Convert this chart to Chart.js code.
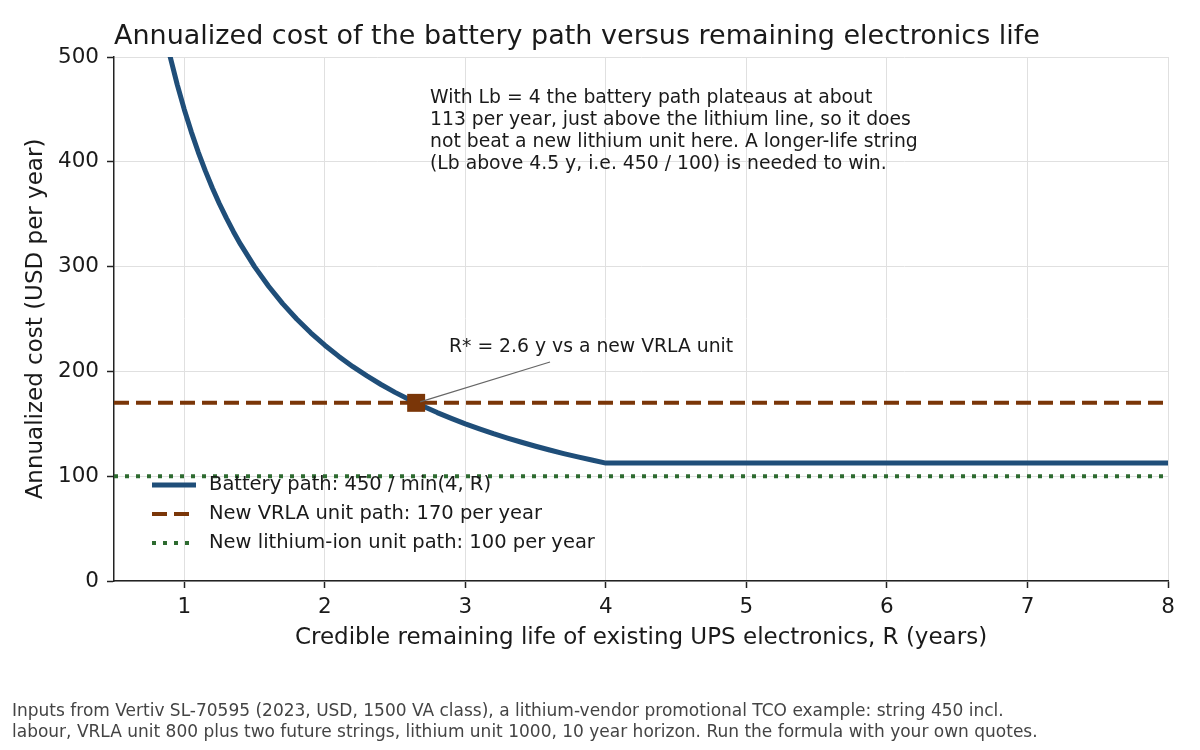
<!DOCTYPE html>
<html>
<head>
<meta charset="utf-8">
<script src="https://cdn.jsdelivr.net/npm/chart.js@4.4.1/dist/chart.umd.min.js"></script>
<style>
  html, body { margin: 0; padding: 0; background: #fff; }
  #wrap { width: 1200px; height: 750px; position: relative; }
</style>
</head>
<body>
<div id="wrap"><canvas id="myChart" width="1200" height="750"></canvas></div>
<script>
// Remaining life R (years) and annualized battery-path cost
const lifeR = [0.85, 0.9, 0.95, 1, 1.05, 1.1, 1.15, 1.2, 1.25, 1.3, 1.35, 1.4, 1.5, 1.6, 1.7, 1.8, 1.9, 2, 2.1, 2.2, 2.3, 2.4, 2.5, 2.6, 2.7, 2.8, 2.9, 3, 3.1, 3.2, 3.3, 3.4, 3.5, 3.6, 3.7, 3.8, 3.9, 4, 8];
const batteryCost = [529.4, 500, 473.7, 450, 428.6, 409.1, 391.3, 375, 360, 346.2, 333.3, 321.4, 300, 281.3, 264.7, 250, 236.8, 225, 214.3, 204.5, 195.7, 187.5, 180, 173.1, 166.7, 160.7, 155.2, 150, 145.2, 140.6, 136.4, 132.4, 128.6, 125, 121.6, 118.4, 115.4, 112.5, 112.5];
const lineRange = [0.5, 8];
const vrlaCost = 170;
const lithiumCost = 100;
const breakEven = { x: 2.65, y: 170 };
const xTicks = [1, 2, 3, 4, 5, 6, 7, 8];
const yTicks = [0, 100, 200, 300, 400, 500];

const seriesLabels = [
    "Battery path: 450 / min(4, R)",
    "New VRLA unit path: 170 per year",
    "New lithium-ion unit path: 100 per year"
];
const noteLines = [
    "With Lb = 4 the battery path plateaus at about",
    "113 per year, just above the lithium line, so it does",
    "not beat a new lithium unit here. A longer-life string",
    "(Lb above 4.5 y, i.e. 450 / 100) is needed to win."
];
const footLines = [
    "Inputs from Vertiv SL-70595 (2023, USD, 1500 VA class), a lithium-vendor promotional TCO example: string 450 incl.",
    "labour, VRLA unit 800 plus two future strings, lithium unit 1000, 10 year horizon. Run the formula with your own quotes."
];

const FONT = "'DejaVu Sans', sans-serif";
const BLUE = "#1f4e79";
const BROWN = "#7a3608";
const GREEN = "#2e6b30";

// draws title, axis titles, annotations, legend and footnote
const textPlugin = {
    id: "textPlugin",
    afterDraw(chart) {
        const ctx = chart.ctx;
        const area = chart.chartArea;
        const xs = chart.scales.x, ys = chart.scales.y;
        ctx.save();
        ctx.fillStyle = "#1a1a1a";
        ctx.textBaseline = "middle";

        ctx.font = "27px " + FONT;
        ctx.textAlign = "left";
        ctx.fillText("Annualized cost of the battery path versus remaining electronics life", area.left, 37);

        ctx.font = "23px " + FONT;
        ctx.textAlign = "center";
        ctx.fillText("Credible remaining life of existing UPS electronics, R (years)", (area.left + area.right) / 2, 638);
        ctx.save();
        ctx.translate(36, (area.top + area.bottom) / 2);
        ctx.rotate(-Math.PI / 2);
        ctx.fillText("Annualized cost (USD per year)", 0, 0);
        ctx.restore();

        // note box text
        ctx.font = "18.8px " + FONT;
        ctx.textAlign = "left";
        noteLines.forEach((t, i) => ctx.fillText(t, 430, 98 + i * 22));

        // break-even label and leader
        const px = xs.getPixelForValue(breakEven.x), py = ys.getPixelForValue(breakEven.y);
        ctx.fillText("R* = 2.6 y vs a new VRLA unit", 449, 347);
        ctx.strokeStyle = "#666";
        ctx.lineWidth = 1.2;
        ctx.beginPath();
        ctx.moveTo(550, 362);
        ctx.lineTo(px + 4, py - 1);
        ctx.stroke();

        // legend
        ctx.font = "19.5px " + FONT;
        chart.data.datasets.slice(0, 3).forEach((ds, i) => {
            const y = 485 + i * 29;
            ctx.strokeStyle = ds.borderColor;
            ctx.lineWidth = ds.borderWidth;
            ctx.setLineDash(ds.borderDash || []);
            ctx.beginPath();
            ctx.moveTo(152, y);
            ctx.lineTo(196, y);
            ctx.stroke();
            ctx.setLineDash([]);
            ctx.fillStyle = "#1a1a1a";
            ctx.fillText(ds.label, 209, y);
        });

        // footnote
        ctx.font = "17px " + FONT;
        ctx.fillStyle = "#444";
        footLines.forEach((t, i) => ctx.fillText(t, 12, 712 + i * 21));
        ctx.restore();
    }
};

const ctx = document.getElementById("myChart").getContext("2d");
const chart = new Chart(ctx, {
    type: "line",
    data: {
        datasets: [
            {
                label: seriesLabels[0],
                data: lifeR.map((r, i) => ({ x: r, y: batteryCost[i] })),
                borderColor: BLUE,
                borderWidth: 5,
                pointRadius: 0,
                tension: 0,
                borderJoinStyle: "round",
                order: 1
            },
            {
                label: seriesLabels[1],
                data: lineRange.map(r => ({ x: r, y: vrlaCost })),
                borderColor: BROWN,
                borderWidth: 4,
                borderDash: [15, 7],
                pointRadius: 0,
                order: 2
            },
            {
                label: seriesLabels[2],
                data: lineRange.map(r => ({ x: r, y: lithiumCost })),
                borderColor: GREEN,
                borderWidth: 4,
                borderDash: [4, 7],
                pointRadius: 0,
                order: 3
            },
            {
                label: "R*",
                data: [breakEven],
                showLine: false,
                pointStyle: "rect",
                pointRadius: 12.7,
                pointBackgroundColor: BROWN,
                pointBorderColor: BROWN,
                pointBorderWidth: 0,
                order: 0
            }
        ]
    },
    options: {
        responsive: false,
        animation: false,
        layout: { padding: { left: 0, right: 32, top: 57, bottom: 129 } },
        plugins: { legend: { display: false }, title: { display: false }, tooltip: { enabled: false } },
        scales: {
            x: {
                type: "linear",
                min: 0.5,
                max: 8,
                afterBuildTicks: axis => { axis.ticks = xTicks.map(v => ({ value: v })); },
                afterFit: scale => { scale.height = 40; },
                grid: { color: "#e0e0e0", lineWidth: 1, tickLength: 7, tickColor: "#222", tickWidth: 1.5 },
                border: { color: "#222", width: 1.5 },
                ticks: { color: "#1a1a1a", font: { family: FONT, size: 21.5 }, padding: 7, maxRotation: 0 }
            },
            y: {
                min: 0,
                max: 500,
                afterBuildTicks: axis => { axis.ticks = yTicks.map(v => ({ value: v })); },
                afterFit: scale => { scale.width = 114; },
                grid: { color: "#e0e0e0", lineWidth: 1, tickLength: 7, tickColor: "#222", tickWidth: 1.5 },
                border: { color: "#222", width: 1.5 },
                ticks: { color: "#1a1a1a", font: { family: FONT, size: 21.5 }, padding: 8 }
            }
        }
    },
    plugins: [textPlugin]
});
</script>
</body>
</html>
